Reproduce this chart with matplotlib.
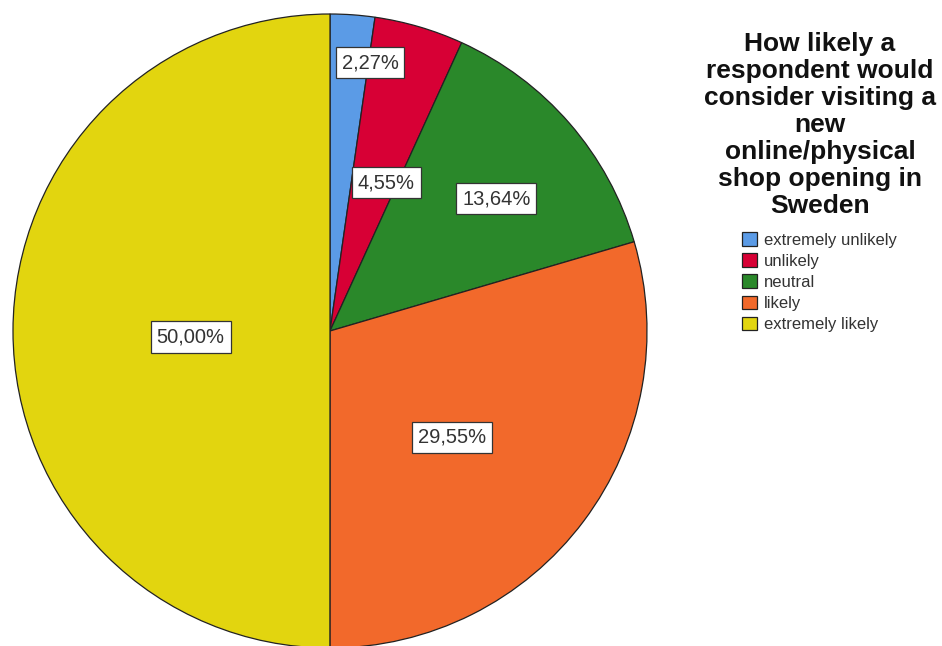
import numpy as np
import matplotlib
matplotlib.use("Agg")
import matplotlib.pyplot as plt

categories = ["extremely unlikely", "unlikely", "neutral", "likely", "extremely likely"]
percents = [2.27, 4.55, 13.64, 29.55, 50.00]
colors = ["#5b9be6", "#d70035", "#2a882a", "#f2692b", "#e2d50f"]
# where each percent label sits: fraction of radius, and angle shift from the wedge middle
label_r = [0.855, 0.50, 0.67, 0.51, 0.44]
label_shift = [-4.4, -4.5, -2.4, -4.2, 2.5]
title = "How likely a\nrespondent would\nconsider visiting a\nnew\nonline/physical\nshop opening in\nSweden"

plt.rcParams['font.family'] = ['Liberation Sans', 'DejaVu Sans']

fig = plt.figure(figsize=(9.42, 6.46), dpi=100)
W, H = 942, 646
cx, cy, r = 330, 331, 317
ax = fig.add_axes([(cx - r) / W, (H - cy - r) / H, 2 * r / W, 2 * r / H])

wedges, _ = ax.pie(percents, colors=colors, startangle=90, counterclock=False,
                   wedgeprops=dict(edgecolor="#222222", linewidth=0.9))
ax.set_xlim(-1, 1)
ax.set_ylim(-1, 1)
ax.set_aspect("equal")
ax.axis("off")

# percent labels
start = 90.0
for p, rr, sh in zip(percents, label_r, label_shift):
    mid = np.deg2rad(start - p * 3.6 / 2 + sh)
    start -= p * 3.6
    txt = ("%.2f%%" % p).replace(".", ",")
    ax.text(rr * np.cos(mid), rr * np.sin(mid), txt, ha="center", va="center",
            fontsize=14.5, color="#333333",
            bbox=dict(boxstyle="square,pad=0.3", facecolor="white",
                      edgecolor="#333333", linewidth=0.9))

fig.text(820 / W, 1 - 32 / H, title, ha="center", va="top", fontsize=19,
         fontweight="bold", linespacing=1.16, color="#111111")

leg = fig.legend(wedges, categories, loc="upper left",
                 bbox_to_anchor=(734 / W, 1 - 224 / H), frameon=False,
                 fontsize=12, handlelength=0.85, handleheight=0.85,
                 handletextpad=0.45, labelspacing=0.34, borderpad=0)
for t in leg.get_texts():
    t.set_color("#333333")

fig.savefig("out.png", dpi=100)
